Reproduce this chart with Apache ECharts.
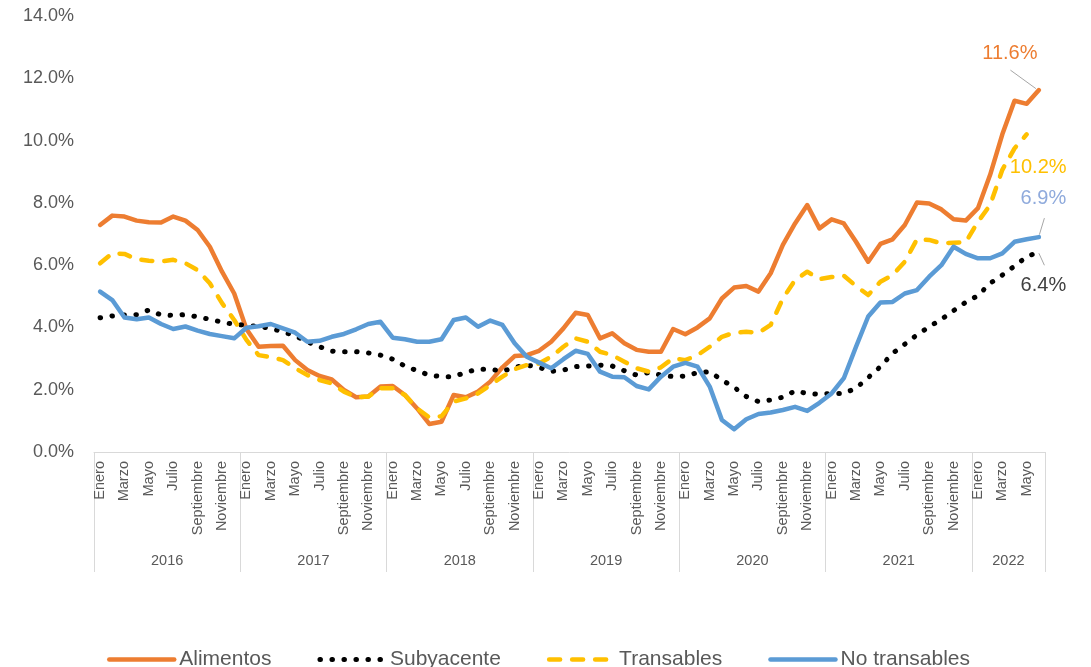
<!DOCTYPE html>
<html>
<head>
<meta charset="utf-8">
<title>Inflación por componentes</title>
<script src="https://cdn.jsdelivr.net/npm/echarts@6/dist/echarts.min.js"></script>
<style>
  html, body { margin: 0; padding: 0; background: #fff; }
  #chart { width: 1091px; height: 667px; }
</style>
</head>
<body>
<div id="chart"></div>
<script>
// datos: variación anual (%), enero 2016 - junio 2022
const years = ['2016', '2017', '2018', '2019', '2020', '2021', '2022']
const monthsPerYear = [12, 12, 12, 12, 12, 12, 6]
const monthNames = ['Enero', 'Febrero', 'Marzo', 'Abril', 'Mayo', 'Junio', 'Julio',
  'Agosto', 'Septiembre', 'Octubre', 'Noviembre', 'Diciembre']

const alimentos = [
  7.29, 7.59, 7.56, 7.43, 7.38, 7.37, 7.56, 7.43, 7.13, 6.59, 5.79, 5.09,
  3.95, 3.38, 3.40, 3.41, 2.95, 2.63, 2.44, 2.33, 1.99, 1.76, 1.78, 2.10,
  2.12, 1.83, 1.40, 0.90, 0.97, 1.83, 1.76, 1.94, 2.26, 2.72, 3.08, 3.11,
  3.25, 3.54, 3.97, 4.47, 4.40, 3.65, 3.81, 3.49, 3.28, 3.22, 3.22, 3.95,
  3.78, 4.00, 4.29, 4.93, 5.28, 5.33, 5.15, 5.74, 6.65, 7.34, 7.93, 7.18,
  7.47, 7.34, 6.75, 6.11, 6.68, 6.83, 7.29, 8.01, 7.98, 7.79, 7.47, 7.43,
  7.83, 8.90, 10.20, 11.28, 11.18, 11.62
]
const subyacente = [
  4.31, 4.37, 4.40, 4.41, 4.56, 4.40, 4.39, 4.41, 4.34, 4.26, 4.17, 4.10,
  4.07, 4.03, 3.97, 3.86, 3.73, 3.54, 3.38, 3.24, 3.22, 3.22, 3.18, 3.11,
  2.98, 2.76, 2.61, 2.47, 2.42, 2.42, 2.56, 2.66, 2.66, 2.59, 2.72, 2.79,
  2.72, 2.59, 2.63, 2.74, 2.76, 2.79, 2.76, 2.61, 2.47, 2.55, 2.47, 2.42,
  2.44, 2.55, 2.58, 2.31, 2.08, 1.78, 1.62, 1.67, 1.76, 1.96, 1.88, 1.85,
  1.88, 1.88, 2.05, 2.39, 2.74, 3.17, 3.46, 3.76, 4.02, 4.26, 4.54, 4.81,
  5.02, 5.42, 5.68, 5.97, 6.27, 6.43
]
const transables = [
  6.06, 6.38, 6.36, 6.19, 6.14, 6.12, 6.17, 6.06, 5.84, 5.42, 4.78, 4.24,
  3.60, 3.11, 3.05, 2.95, 2.69, 2.47, 2.31, 2.20, 1.94, 1.76, 1.78, 2.05,
  2.05, 1.83, 1.40, 1.11, 1.15, 1.62, 1.72, 1.88, 2.15, 2.42, 2.66, 2.79,
  2.84, 3.06, 3.38, 3.65, 3.54, 3.22, 3.11, 2.90, 2.69, 2.58, 2.72, 3.01,
  2.95, 3.11, 3.38, 3.70, 3.83, 3.86, 3.83, 4.08, 4.93, 5.52, 5.79, 5.55,
  5.62, 5.66, 5.33, 5.04, 5.47, 5.68, 6.11, 6.83, 6.81, 6.70, 6.72, 6.74,
  7.39, 7.93, 9.06, 9.75, 10.20, null
]
const noTransables = [
  5.15, 4.88, 4.32, 4.26, 4.32, 4.11, 3.95, 4.03, 3.90, 3.79, 3.72, 3.65,
  3.99, 4.04, 4.11, 3.97, 3.83, 3.54, 3.57, 3.70, 3.79, 3.94, 4.11, 4.18,
  3.67, 3.62, 3.54, 3.54, 3.62, 4.24, 4.32, 4.02, 4.22, 4.08, 3.49, 3.06,
  2.87, 2.69, 2.98, 3.25, 3.15, 2.58, 2.42, 2.40, 2.12, 2.01, 2.42, 2.74,
  2.86, 2.74, 2.10, 1.03, 0.73, 1.05, 1.22, 1.27, 1.35, 1.45, 1.32, 1.58,
  1.88, 2.37, 3.38, 4.35, 4.80, 4.82, 5.09, 5.20, 5.63, 6.00, 6.59, 6.36,
  6.22, 6.22, 6.38, 6.75, 6.83, 6.90
]
const yMin = 0, yMax = 14, yStep = 2

const FONT = '"Liberation Sans", Arial, sans-serif'
const GRAY = '#595959'
const AXIS = '#D9D9D9'

// categorias mes-año y centro de cada año (en unidades de mes)
const categories = []
const yearCenter = {}
let start = 0
years.forEach((y, k) => {
  for (let m = 0; m < monthsPerYear[k]; m++) categories.push(monthNames[m] + ' ' + y)
  yearCenter[start + monthsPerYear[k] / 2] = y
  start += monthsPerYear[k]
})

const series = [
  {name: 'Alimentos', data: alimentos, color: '#ED7D31', type: 'solid', width: 4.5},
  {name: 'Subyacente', data: subyacente, color: '#000000', type: [0.5, 11.5], width: 5},
  {name: 'Transables', data: transables, color: '#FFC000', type: [11, 12], width: 4.5},
  {name: 'No transables', data: noTransables, color: '#5B9BD5', type: 'solid', width: 4.5}
]

const chart = echarts.init(document.getElementById('chart'))
chart.setOption({
  animation: false,
  textStyle: {fontFamily: FONT},
  grid: {left: 94, right: 46, top: 16, bottom: 215, containLabel: false},
  legend: {
    left: 102, top: 644,
    itemWidth: 65, itemHeight: 12, itemGap: 46,
    itemStyle: {opacity: 0},
    lineStyle: {width: 'inherit', type: 'inherit', cap: 'round'},
    textStyle: {fontSize: 21, color: GRAY, fontFamily: FONT},
    data: series.map(s => s.name)
  },
  xAxis: [
    {
      type: 'category',
      data: categories,
      boundaryGap: true,
      axisLine: {lineStyle: {color: AXIS, width: 1}},
      axisTick: {
        show: true, length: 120, alignWithLabel: false,
        interval: idx => idx % 12 === 0,
        lineStyle: {color: AXIS, width: 1}
      },
      axisLabel: {
        rotate: 90, margin: 9, fontSize: 14.5, color: GRAY, fontFamily: FONT,
        interval: idx => idx % 2 === 0,
        formatter: v => v.split(' ')[0]
      },
      splitLine: {show: false}
    },
    {
      type: 'value',
      min: 0, max: categories.length, interval: 3,
      position: 'bottom', offset: 93,
      axisLine: {show: false}, axisTick: {show: false}, splitLine: {show: false},
      axisLabel: {
        margin: 8, fontSize: 14.5, color: GRAY, fontFamily: FONT,
        formatter: v => yearCenter[v] || ''
      }
    }
  ],
  yAxis: {
    type: 'value', min: yMin, max: yMax, interval: yStep,
    axisLine: {show: false}, axisTick: {show: false}, splitLine: {show: false},
    axisLabel: {
      margin: 20, fontSize: 18, color: GRAY, fontFamily: FONT,
      formatter: v => v.toFixed(1) + '%'
    }
  },
  series: series.map(s => ({
    name: s.name,
    type: 'line',
    data: s.data,
    symbol: 'none',
    smooth: false,
    color: s.color,
    lineStyle: {color: s.color, width: s.width, type: s.type, cap: 'round', join: 'round'}
  }))
})

// etiquetas del último dato
const notes = [
  {idx: 0, color: '#ED7D31', dx: -29, dy: -37, line: [-28.5, -20, -3, -1.5]},
  {idx: 2, color: '#FFC000', dx: 11.5, dy: 33},
  {idx: 3, color: '#8FAADC', dx: 4.5, dy: -39, line: [5.5, -19, 0.5, -2.5]},
  {idx: 1, color: '#404040', dx: 4.5, dy: 34, line: [0, 1.5, 5.5, 13.5]}
]
const graphic = []
notes.forEach(n => {
  const data = series[n.idx].data
  let last = data.length - 1
  while (data[last] == null) last--
  const p = chart.convertToPixel({xAxisIndex: 0, yAxisIndex: 0}, [last, data[last]])
  if (n.line) {
    graphic.push({
      type: 'line', silent: true,
      shape: {x1: p[0] + n.line[0], y1: p[1] + n.line[1], x2: p[0] + n.line[2], y2: p[1] + n.line[3]},
      style: {stroke: '#A6A6A6', lineWidth: 1}
    })
  }
  graphic.push({
    type: 'text', silent: true,
    x: p[0] + n.dx, y: p[1] + n.dy,
    style: {
      text: data[last].toFixed(1) + '%',
      fill: n.color, fontSize: 20, fontFamily: FONT,
      align: 'center', verticalAlign: 'middle',
      textAlign: 'center', textVerticalAlign: 'middle'
    }
  })
})
chart.setOption({graphic: graphic})
</script>
</body>
</html>
